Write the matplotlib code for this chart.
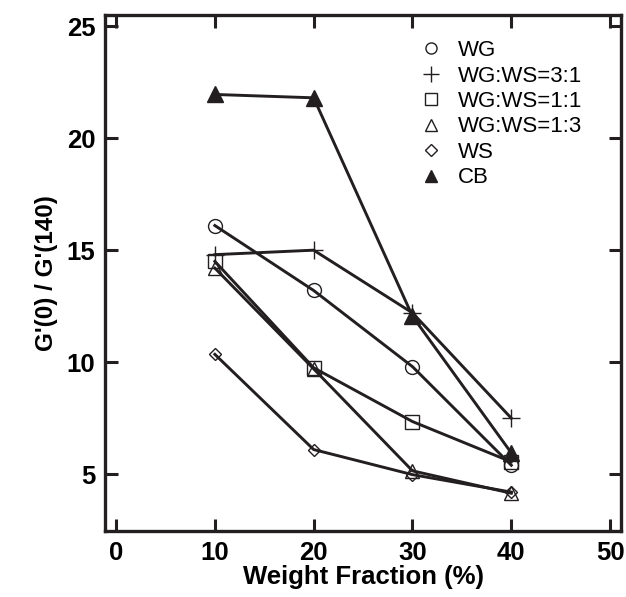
import matplotlib
matplotlib.use("Agg")
import matplotlib.pyplot as plt

plt.rcParams['font.family'] = ['Liberation Sans', 'DejaVu Sans']

# weight fraction (%)
fraction = [10, 20, 30, 40]

# G'(0)/G'(140) for each blend
wg = [16.1, 13.2, 9.8, 5.4]
wg_ws_31 = [14.8, 15.0, 12.2, 7.5]
wg_ws_11 = [14.5, 9.75, 7.35, 5.55]
wg_ws_13 = [14.2, 9.7, 5.15, 4.15]
ws = [10.35, 6.1, 4.98, 4.2]
cb = [21.95, 21.8, 12.05, 5.95]

labels = ["WG", "WG:WS=3:1", "WG:WS=1:1", "WG:WS=1:3", "WS", "CB"]
markers = ["o", "+", "s", "^", "D", "^"]

ink = "#231f20"

fig = plt.figure(figsize=(6.26, 5.97), dpi=100)
ax = fig.add_axes([0.168, 0.110, 0.824, 0.865])

series = [wg, wg_ws_31, wg_ws_11, wg_ws_13, ws, cb]
for vals, lab, mk in zip(series, labels, markers):
    filled = lab == "CB"
    size = 10
    if mk == "D":
        size = 6.5
    if mk == "+":
        size = 13
    if filled:
        size = 11
    ax.plot(fraction, vals, color=ink, lw=2.1, marker=mk, markersize=size,
            markerfacecolor=ink if filled else "none",
            markeredgecolor=ink, markeredgewidth=1.0, label=lab)

ax.set_xlim(-1.1, 51.1)
ax.set_ylim(2.45, 25.5)
ax.set_xticks([0, 10, 20, 30, 40, 50])
ax.set_yticks([5, 10, 15, 20, 25])

for sp in ax.spines.values():
    sp.set_linewidth(2.4)
    sp.set_color(ink)
ax.tick_params(direction="in", length=9, width=2.2, color=ink,
               top=True, right=True, labelsize=18.5, pad=7)
for t in ax.get_xticklabels() + ax.get_yticklabels():
    t.set_fontweight("bold")

ax.set_xlabel("Weight Fraction (%)", fontsize=18.5, fontweight="bold", labelpad=0)
ax.set_ylabel("G'(0) / G'(140)", fontsize=17.5, fontweight="bold", labelpad=6)

# legend with smaller markers
handles = []
for lab, mk in zip(labels, markers):
    filled = lab == "CB"
    sz = 8
    if mk == "D":
        sz = 6
    if mk == "+":
        sz = 11
    h, = ax.plot([], [], linestyle="none", marker=mk, markersize=sz,
                 markerfacecolor=ink if filled else "none",
                 markeredgecolor=ink, markeredgewidth=1.0)
    handles.append(h)
leg = ax.legend(handles, labels, loc="upper left", bbox_to_anchor=(0.572, 0.99),
                frameon=False, fontsize=16, handlelength=1.0, handletextpad=0.7,
                labelspacing=0.2)

fig.savefig("out.png", dpi=100)
